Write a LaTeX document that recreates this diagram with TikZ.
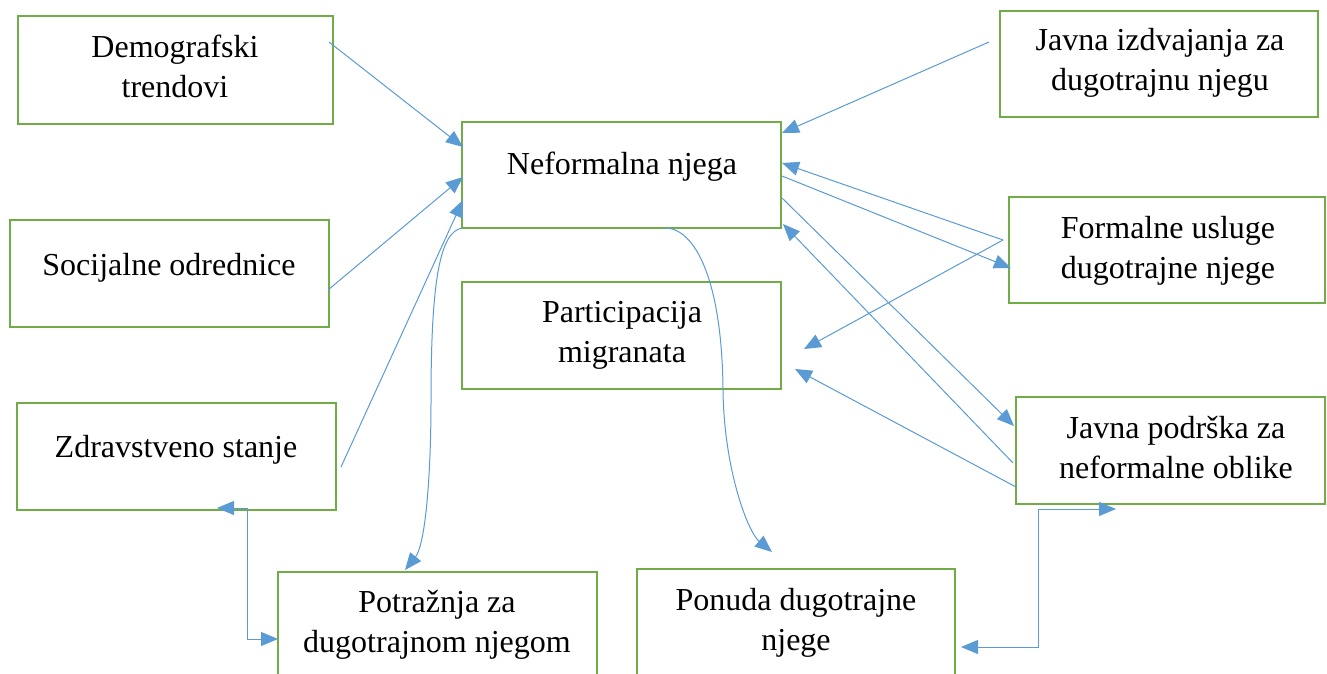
\documentclass[tikz,border=0pt]{standalone}
\usepackage{fontspec}
\setmainfont{Liberation Serif}
\usetikzlibrary{arrows.meta,calc}
\definecolor{boxgreen}{HTML}{70AD47}
\definecolor{arrowblue}{HTML}{5B9BD5}
\begin{document}
\begin{tikzpicture}[x=1pt,y=-1pt,
  box/.style={draw=boxgreen,line width=2.8pt,inner sep=0pt,outer sep=0pt},
  lbl/.style={align=center,inner sep=0pt,font=\fontsize{32}{40}\selectfont},
  conn/.style={draw=arrowblue,line width=1pt,-{Triangle[length=17pt,width=14pt]}},
  connboth/.style={draw=arrowblue,line width=1pt,{Triangle[length=17pt,width=14pt]}-{Triangle[length=17pt,width=14pt]}}]
\useasboundingbox[fill=white] (0,0) rectangle (1327,674);
\clip (0,0) rectangle (1327,674);
% boxes
\node[box,minimum width=315pt,minimum height=108pt] (demo) at (175.5,70) {};
\node[box,minimum width=319pt,minimum height=107pt] (soc) at (169.5,273.5) {};
\node[box,minimum width=319pt,minimum height=107pt] (zdr) at (176.5,456.5) {};
\node[box,minimum width=319pt,minimum height=106pt] (nef) at (621.5,175) {};
\node[box,minimum width=319pt,minimum height=107pt] (par) at (621.5,335.5) {};
\node[box,minimum width=319pt,minimum height=107pt] (pot) at (437.5,625.5) {};
\node[box,minimum width=318pt,minimum height=107pt] (pon) at (796,622.5) {};
\node[box,minimum width=318pt,minimum height=106pt] (jiz) at (1159,64) {};
\node[box,minimum width=316pt,minimum height=106pt] (for) at (1167,250) {};
\node[box,minimum width=309pt,minimum height=107pt] (jpo) at (1170.5,450.5) {};
% texts
\node[lbl] (demo-t) at (175,70) {Demografski\strut\\trendovi\strut};
\node[lbl] (soc-t) at (169,267) {Socijalne odrednice\strut};
\node[lbl] (zdr-t) at (176,449) {Zdravstveno stanje\strut};
\node[lbl] (nef-t) at (622,166) {Neformalna njega\strut};
\node[lbl] (par-t) at (622,334) {Participacija\strut\\migranata\strut};
\node[lbl] (pot-t) at (437,624) {Potražnja za\strut\\dugotrajnom njegom\strut};
\node[lbl] (pon-t) at (796,622) {Ponuda dugotrajne\strut\\njege\strut};
\node[lbl] (jiz-t) at (1160,63) {Javna izdvajanja za\strut\\dugotrajnu njegu\strut};
\node[lbl] (for-t) at (1168,250) {Formalne usluge\strut\\dugotrajne njege\strut};
\node[lbl] (jpo-t) at (1176,450) {Javna podrška za\strut\\neformalne oblike\strut};
% connectors
\draw[conn] ($(demo.north east)+(-4,26)$) -- ($(nef.north west)+(1,25)$);
\draw[conn] ($(soc.north east)+(-1,70)$) -- ($(nef.north west)+(1,55)$);
\draw[conn] ($(zdr.north east)+(5,64)$) -- ($(nef.north west)+(1,78)$);
\draw[conn] (nef.south west) .. controls (440,232) and (431,280) .. (431,400)
  .. controls (431,480) and (425,545) .. ($(pot.north west)+(127,-2)$);
\draw[conn] ($(nef.south west)+(203,0)$) .. controls (695,228) and (722,280) .. (723,390)
  .. controls (724,470) and (748,532) .. ($(pon.north west)+(135,-17)$);
\draw[connboth] ($(zdr.south west)+(200,-2)$) -- ++(30,0) |- ($(pot.north west)+(0,67)$);
\draw[connboth] ($(jpo.south west)+(100,5)$) -- ++(-78,0) |- ($(pon.north west)+(324,78)$);
\draw[conn] ($(jiz.north west)+(-11,31)$) -- ($(nef.north east)+(1,11)$);
\draw[conn] ($(for.north west)+(-6,43)$) -- ($(nef.north east)+(1,41)$);
\draw[conn] ($(nef.north east)+(1,54)$) -- ($(for.north west)+(2,71)$);
\draw[conn] ($(for.north west)+(-6,43)$) -- ($(par.north east)+(23,67)$);
\draw[conn] ($(nef.north east)+(1,76)$) -- ($(jpo.north west)+(-2,29)$);
\draw[conn] ($(jpo.north west)+(-3,66)$) -- ($(nef.north east)+(2,102)$);
\draw[conn] ($(jpo.north west)+(0,90)$) -- ($(par.north east)+(14,87)$);
\end{tikzpicture}
\end{document}
